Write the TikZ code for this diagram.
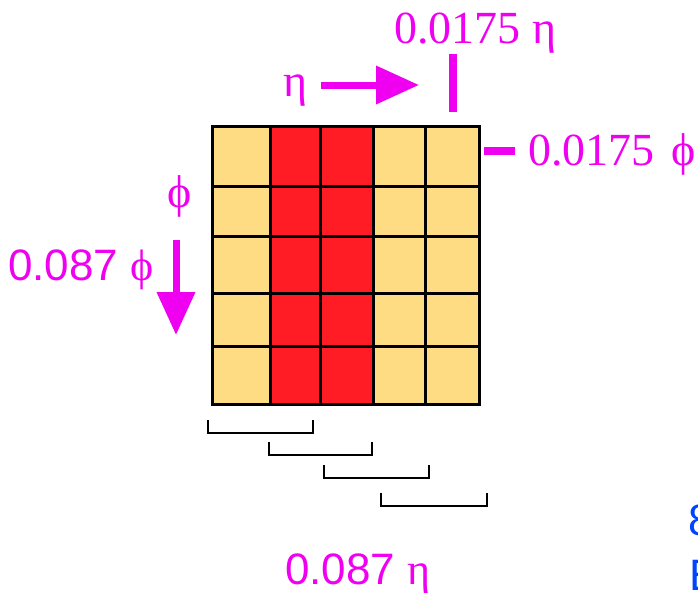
\documentclass[tikz,border=0pt]{standalone}
\usepackage{fontspec}
\setmainfont{Liberation Serif}
\setsansfont{Liberation Sans}
\usetikzlibrary{arrows.meta}

\definecolor{mag}{RGB}{240,0,240}
\definecolor{cellred}{RGB}{255,28,36}
\definecolor{cellpale}{RGB}{254,220,132}
\definecolor{labblue}{RGB}{0,68,255}

\tikzset{
  lab/.style={text=mag, inner sep=0pt, anchor=base west, font=\fontsize{46}{50}\selectfont},
  labsf/.style={lab, font=\fontsize{44}{48}\selectfont},
  pointer/.style={mag, line width=7pt, -{Triangle[length=43pt,width=37pt]}},
  marktick/.style={mag, line width=8pt},
  cell/.style={draw=black, line width=3pt},
  span/.style={line width=1.3pt}
}

\begin{document}
\begin{tikzpicture}[x=1pt,y=-1pt]
  \useasboundingbox (0,0) rectangle (698,592);

  % the 5x5 cells
  \foreach \xa/\xb/\fillc in {212/270/cellpale,270/320/cellred,320/373/cellred,373/425/cellpale,425/479/cellpale}
    \foreach \ya/\yb in {126/186,186/236,236/293,293/346,346/404}
      \draw[cell, fill=\fillc] (\xa,\ya) rectangle (\xb,\yb);

  % sliding windows below
  \foreach \xa/\xb/\yt in {208/313/420,269/372/442,324/429/465,381/487/493}
    \draw[span] (\xa,\yt) -- (\xa,\yt+13) -- (\xb,\yt+13) -- (\xb,\yt);

  % eta direction
  \node[lab] (eta) at (283,96) {η};
  \coordinate (etafrom) at (321,85);
  \coordinate (etato) at (419,85);
  \draw[pointer] (etafrom) -- (etato);
  \node[lab] (etastep) at (394,43) {0.0175 η};
  \coordinate (etatop) at (453,54);
  \coordinate (etabot) at (453,112);
  \draw[marktick] (etatop) -- (etabot);

  % phi direction
  \node[lab] (phi) at (167,207) {ϕ};
  \coordinate (phifrom) at (176,240);
  \coordinate (phito) at (176,335);
  \draw[pointer] (phifrom) -- (phito);
  \node[labsf] (phiwin) at (8,280) {\sffamily 0.087 \rmfamily ϕ};
  \coordinate (phileft) at (484,151);
  \coordinate (phiright) at (515,151);
  \draw[marktick] (phileft) -- (phiright);
  \node[lab] (phistep) at (528,165) {0.0175\hspace*{17pt}ϕ};

  \node[labsf] (etawin) at (285,584) {\sffamily 0.087 \rmfamily η};

  % text running off the right edge
  \node[labsf, text=labblue] (cutone) at (688,535) {\sffamily 8};
  \node[labsf, text=labblue] (cuttwo) at (689,590) {\sffamily E};
\end{tikzpicture}
\end{document}
